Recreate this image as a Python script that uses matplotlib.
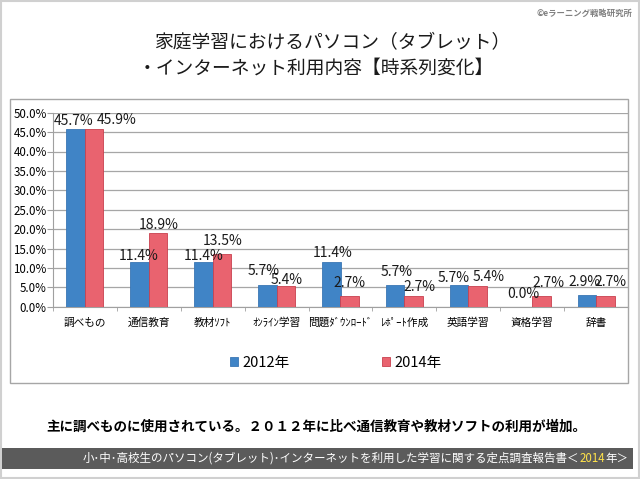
import numpy as np
import matplotlib
matplotlib.use("Agg")
import matplotlib.pyplot as plt
from matplotlib.patches import Rectangle
from matplotlib.ticker import PercentFormatter, FixedLocator

plt.rcParams['font.family'] = ['Noto Sans CJK JP', 'DejaVu Sans']

# data
categories = ["調べもの", "通信教育", "教材ｿﾌﾄ", "ｵﾝﾗｲﾝ学習", "問題ﾀﾞｳﾝﾛｰﾄﾞ",
              "ﾚﾎﾟｰﾄ作成", "英語学習", "資格学習", "辞書"]
vals_2012 = [45.7, 11.4, 11.4, 5.7, 11.4, 5.7, 5.7, 0.0, 2.9]
vals_2014 = [45.9, 18.9, 13.5, 5.4, 2.7, 2.7, 5.4, 2.7, 2.7]
series_names = ["2012年", "2014年"]
yticks = [0, 5, 10, 15, 20, 25, 30, 35, 40, 45, 50]

# hand-placed label nudges (pixels: right, up from bar top) as in the original
nudge_2012 = [(-2, 8), (-1, 6), (0, 6), (-4, 14), (1, 9), (1, 13), (-5, 7), (0, 13), (-2, 13)]
nudge_2014 = [(22, 9), (1, 8), (1, 13), (1, 6), (0, 13), (6, 9), (11, 9), (7, 13), (5, 14)]

title1 = "家庭学習におけるパソコン（タブレット）"
title2 = "・インターネット利用内容【時系列変化】"
summary = "主に調べものに使用されている。２０１２年に比べ通信教育や教材ソフトの利用が増加。"
footer = "小･中･高校生のパソコン(タブレット)･インターネットを利用した学習に関する定点調査報告書＜"
footer_year = "2014"
footer_end = "年＞"
credit = "©eラーニング戦略研究所"

blue = "#4084c6"
red = "#e9636f"

W, H = 640, 479
fig = plt.figure(figsize=(6.4, 4.79), dpi=100)
fig.patch.set_facecolor("white")


def px(x, y):
    return x / W, 1 - y / H


# slide border
fig.patches.append(Rectangle((0.002, 0.002), 0.996, 0.995, transform=fig.transFigure,
                             fill=False, edgecolor="#d0d0d0", lw=1.5))
# chart box
x0, y0 = px(10, 383)
x1, y1 = px(628, 99)
fig.patches.append(Rectangle((x0, y0), x1 - x0, y1 - y0, transform=fig.transFigure,
                             fill=False, edgecolor="#a6a6a6", lw=1))

fig.text(*px(632, 13), credit, ha="right", va="center", fontsize=6, color="#808080",
         fontweight="bold")
fig.text(*px(332, 43), title1, ha="center", va="center", fontsize=13.5, color="#1a1a1a")
fig.text(*px(316, 68), title2, ha="center", va="center", fontsize=13.5, color="#1a1a1a")

ax = fig.add_axes([53 / W, 1 - 306.7 / H, 575 / W, 194 / H])
x = np.arange(len(categories))
bw = 0.29
b1 = ax.bar(x - bw / 2, vals_2012, bw, color=blue, edgecolor="#3a76b4", lw=0.6,
            label=series_names[0], zorder=3)
b2 = ax.bar(x + bw / 2, vals_2014, bw, color=red, edgecolor="#c8404e", lw=0.6,
            label=series_names[1], zorder=3)
for bars, vals, nudges in ((b1, vals_2012, nudge_2012), (b2, vals_2014, nudge_2014)):
    for r, v, (dx, dy) in zip(bars, vals, nudges):
        ax.annotate(f"{v:.1f}%", (r.get_x() + r.get_width() / 2, v),
                    xytext=(dx * 0.72, dy * 0.72), textcoords="offset points",
                    ha="center", va="center", fontsize=10, color="#1a1a1a", zorder=4)

ax.set_xlim(-0.5, len(categories) - 0.5)
ax.set_ylim(0, 50)
ax.set_yticks(yticks)
ax.yaxis.set_major_formatter(PercentFormatter(decimals=1))
ax.set_xticks(x)
ax.set_xticklabels(categories, fontsize=7.7)
ax.xaxis.set_minor_locator(FixedLocator(np.arange(-0.5, len(categories), 1)))
ax.tick_params(axis="x", which="major", length=0, pad=8)
ax.tick_params(axis="x", which="minor", length=3, color="#a0a0a0")
ax.tick_params(axis="y", length=4, color="#a0a0a0", labelsize=8.3, pad=0.5)
ax.grid(axis="y", color="#a6a6a6", lw=0.9, zorder=0)
for s in ("top", "right"):
    ax.spines[s].set_visible(False)
for s in ("left", "bottom"):
    ax.spines[s].set_color("#a0a0a0")
ax.set_facecolor("none")

leg = fig.legend(handles=[b1, b2], loc="center", bbox_to_anchor=px(336, 363),
                 ncol=2, frameon=False, fontsize=10.5, handlelength=0.55,
                 handleheight=0.55, handletextpad=0.3, columnspacing=6.3)

fig.text(*px(316, 427), summary, ha="center", va="center", fontsize=9.75,
         fontweight="bold", color="black")

fx0, fy0 = px(2, 469)
fx1, fy1 = px(633, 448)
fig.patches.append(Rectangle((fx0, fy0), fx1 - fx0, fy1 - fy0, transform=fig.transFigure,
                             facecolor="#5b5b5b", edgecolor="none"))
t_end = fig.text(*px(628, 458.5), footer_end, ha="right", va="center", fontsize=8.3,
                 color="white")
fig.canvas.draw()
r = fig.canvas.get_renderer()
bb = t_end.get_window_extent(r)
t_year = fig.text(bb.x0 / fig.bbox.width, px(0, 458.5)[1], footer_year, ha="right",
                  va="center", fontsize=8.3, color="#ffe24a")
bb2 = t_year.get_window_extent(r)
fig.text(bb2.x0 / fig.bbox.width, px(0, 458.5)[1], footer, ha="right", va="center",
         fontsize=8.3, color="white")

fig.savefig("out.png", dpi=100)
